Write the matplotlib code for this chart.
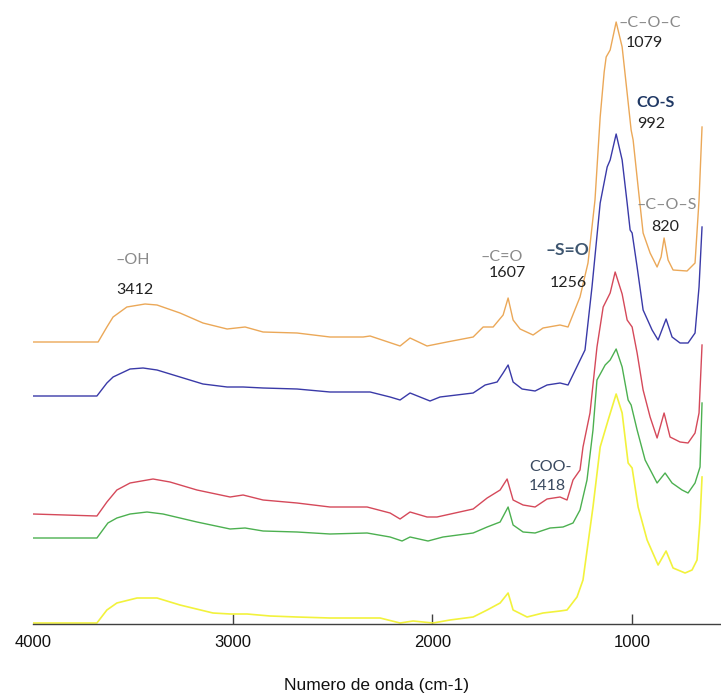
import matplotlib
matplotlib.use("Agg")
import matplotlib.pyplot as plt

# FTIR spectra, stacked (arbitrary absorbance units, offset per sample)
wn_orange = [4000, 3674, 3630, 3599, 3530, 3439, 3379, 3264, 3149, 3028, 2938, 2848, 2678, 2513,
             2347, 2312, 2177, 2162, 2112, 2027, 1977, 1927, 1796, 1746, 1696, 1646, 1621, 1596,
             1561, 1496, 1446, 1361, 1321, 1261, 1221, 1186, 1160, 1140, 1130, 1110, 1080, 1050, 1025,
             1005, 995, 970, 945, 910, 875, 855, 840, 820, 795, 725, 685, 665, 650]
ab_orange = [2.82, 2.82, 2.97, 3.07, 3.17, 3.20, 3.19, 3.11, 3.01, 2.95, 2.97, 2.92, 2.91, 2.87,
             2.87, 2.88, 2.79, 2.78, 2.86, 2.78, 2.80, 2.82, 2.87, 2.97, 2.97, 3.09, 3.26, 3.04,
             2.95, 2.89, 2.96, 2.99, 2.97, 3.27, 3.61, 4.24, 5.07, 5.52, 5.67, 5.74, 6.02, 5.77, 5.31,
             4.94, 4.84, 4.37, 3.91, 3.71, 3.57, 3.67, 3.86, 3.64, 3.54, 3.53, 3.61, 4.24, 4.97]

wn_blue = [4000, 3680, 3630, 3599, 3514, 3449, 3379, 3264, 3149, 3028, 2948, 2848, 2678, 2513,
           2312, 2212, 2162, 2112, 2012, 1962, 1796, 1736, 1676, 1646, 1621, 1596, 1551, 1486,
           1426, 1361, 1321, 1236, 1201, 1160, 1125, 1110, 1080, 1050, 1025, 1010, 1000, 975,
           945, 900, 870, 830, 800, 760, 720, 685, 665, 650]
ab_blue = [2.28, 2.28, 2.41, 2.47, 2.55, 2.56, 2.54, 2.47, 2.40, 2.37, 2.37, 2.36, 2.35, 2.32,
           2.32, 2.27, 2.24, 2.31, 2.23, 2.27, 2.31, 2.39, 2.42, 2.51, 2.59, 2.42, 2.35, 2.33,
           2.39, 2.41, 2.39, 2.74, 3.37, 4.21, 4.57, 4.64, 4.90, 4.64, 4.21, 3.94, 3.91, 3.57,
           3.14, 2.94, 2.84, 3.05, 2.87, 2.81, 2.81, 2.91, 3.37, 3.97]

wn_red = [4000, 3680, 3630, 3580, 3514, 3399, 3314, 3179, 3013, 2948, 2848, 2678, 2513,
          2327, 2212, 2162, 2112, 2027, 1977, 1796, 1726, 1661, 1626, 1596, 1546, 1486, 1426,
          1361, 1326, 1296, 1261, 1246, 1211, 1176, 1145, 1110, 1085, 1050, 1025, 1000, 975,
          945, 910, 875, 840, 810, 760, 720, 685, 665, 650]
ab_red = [1.10, 1.08, 1.22, 1.34, 1.41, 1.45, 1.42, 1.34, 1.27, 1.29, 1.24, 1.21, 1.17,
          1.17, 1.11, 1.05, 1.12, 1.07, 1.07, 1.15, 1.26, 1.34, 1.45, 1.24, 1.19, 1.17, 1.25,
          1.27, 1.24, 1.44, 1.54, 1.77, 2.11, 2.77, 3.17, 3.31, 3.52, 3.30, 3.04, 2.97, 2.71,
          2.34, 2.07, 1.86, 2.11, 1.87, 1.82, 1.81, 1.91, 2.11, 2.79]

wn_green = [4000, 3680, 3625, 3580, 3514, 3429, 3349, 3179, 3013, 2938, 2848, 2678, 2513,
            2327, 2212, 2152, 2112, 2022, 1947, 1796, 1726, 1661, 1621, 1596, 1546, 1486, 1411,
            1346, 1296, 1261, 1226, 1196, 1176, 1135, 1110, 1080, 1050, 1020, 1005, 975, 935,
            875, 835, 800, 750, 720, 685, 660, 650]
ab_green = [0.86, 0.86, 1.01, 1.06, 1.10, 1.12, 1.10, 1.02, 0.95, 0.96, 0.93, 0.92, 0.90,
            0.91, 0.87, 0.83, 0.87, 0.83, 0.87, 0.91, 0.97, 1.02, 1.17, 0.99, 0.92, 0.91, 0.96,
            0.97, 1.01, 1.14, 1.44, 1.94, 2.44, 2.59, 2.64, 2.75, 2.57, 2.24, 2.19, 1.94, 1.64,
            1.41, 1.51, 1.41, 1.34, 1.31, 1.41, 1.57, 2.21]

wn_yellow = [4000, 3680, 3630, 3580, 3479, 3379, 3264, 3099, 3013, 2928, 2813, 2678, 2513,
             2262, 2162, 2097, 1997, 1912, 1796, 1726, 1661, 1621, 1596, 1526, 1446, 1361, 1326,
             1276, 1246, 1196, 1160, 1120, 1080, 1050, 1020, 1000, 970, 925, 870, 830, 795, 735,
             700, 675, 660, 650]
ab_yellow = [0.01, 0.01, 0.14, 0.21, 0.26, 0.26, 0.19, 0.11, 0.10, 0.10, 0.08, 0.07, 0.06,
             0.06, 0.01, 0.03, 0.01, 0.04, 0.07, 0.14, 0.21, 0.31, 0.14, 0.07, 0.11, 0.13, 0.14,
             0.27, 0.44, 1.17, 1.77, 2.04, 2.30, 2.11, 1.61, 1.56, 1.17, 0.84, 0.59, 0.73, 0.56,
             0.51, 0.54, 0.64, 1.04, 1.47]

plt.rcParams["font.family"] = ["Liberation Sans", "DejaVu Sans"]

fig = plt.figure(figsize=(7.21, 6.98), dpi=100)
ax = fig.add_axes([33 / 721, 74 / 698, 1 - 33 / 721, 624 / 698])

ax.plot(wn_orange, ab_orange, color="#EBA858", lw=1.0)
ax.plot(wn_blue, ab_blue, color="#3A3AA8", lw=1.0)
ax.plot(wn_red, ab_red, color="#D5495A", lw=1.0)
ax.plot(wn_green, ab_green, color="#4CB050", lw=1.0)
ax.plot(wn_yellow, ab_yellow, color="#F2F23C", lw=1.2)

ax.set_xlim(4000, 555)
ax.set_ylim(0, 6.24)

for s in ["left", "right", "top"]:
    ax.spines[s].set_visible(False)
ax.spines["bottom"].set_color("#404040")
ax.spines["bottom"].set_linewidth(1.0)
ax.set_yticks([])
ax.set_xticks([4000, 3000, 2000, 1000])
ax.tick_params(axis="x", direction="in", length=7, width=1, color="#404040",
               labelsize=12, pad=8, labelcolor="#111111")
ax.xaxis.get_major_ticks()[0].tick1line.set_visible(False)
ax.set_xlabel("Numero de onda (cm-1)", fontsize=12.5, labelpad=20, color="#111111")

lab = dict(family=["Lato", "DejaVu Sans"], fontsize=11.5, ha="center", va="center")
gray = "#8A8A8A"
ax.text(3499, 3.64, "\u2013OH", color=gray, **lab)
ax.text(3489, 3.34, "3412", color="#222222", **lab)
ax.text(1651, 3.67, "\u2013C=O", color=gray, **lab)
ax.text(1626, 3.51, "1607", color="#222222", **lab)
ax.text(1326, 3.74, "\u2013S=O", color="#3E5670", fontsize=12.5, ha="center", va="center",
        family=["Lato", "DejaVu Sans"], fontweight="bold")
ax.text(1321, 3.41, "1256", color="#222222", **lab)
ax.text(1070, 6.01, "\u2013C\u2013O\u2013C", color=gray, family=["Lato", "DejaVu Sans"],
        fontsize=11.5, ha="left", va="center")
ax.text(1030, 5.81, "1079", color="#222222", family=["Lato", "DejaVu Sans"],
        fontsize=11.5, ha="left", va="center")
ax.text(885, 5.21, "CO-S", color="#1F3864", fontweight="bold", **lab)
ax.text(905, 5.00, "992", color="#222222", **lab)
ax.text(825, 4.19, "\u2013C\u2013O\u2013S", color=gray, **lab)
ax.text(835, 3.97, "820", color="#222222", **lab)
ax.text(1411, 1.57, "COO-", color="#3A4A60", **lab)
ax.text(1426, 1.38, "1418", color="#3A4A60", **lab)

fig.savefig("out.png", dpi=100)
